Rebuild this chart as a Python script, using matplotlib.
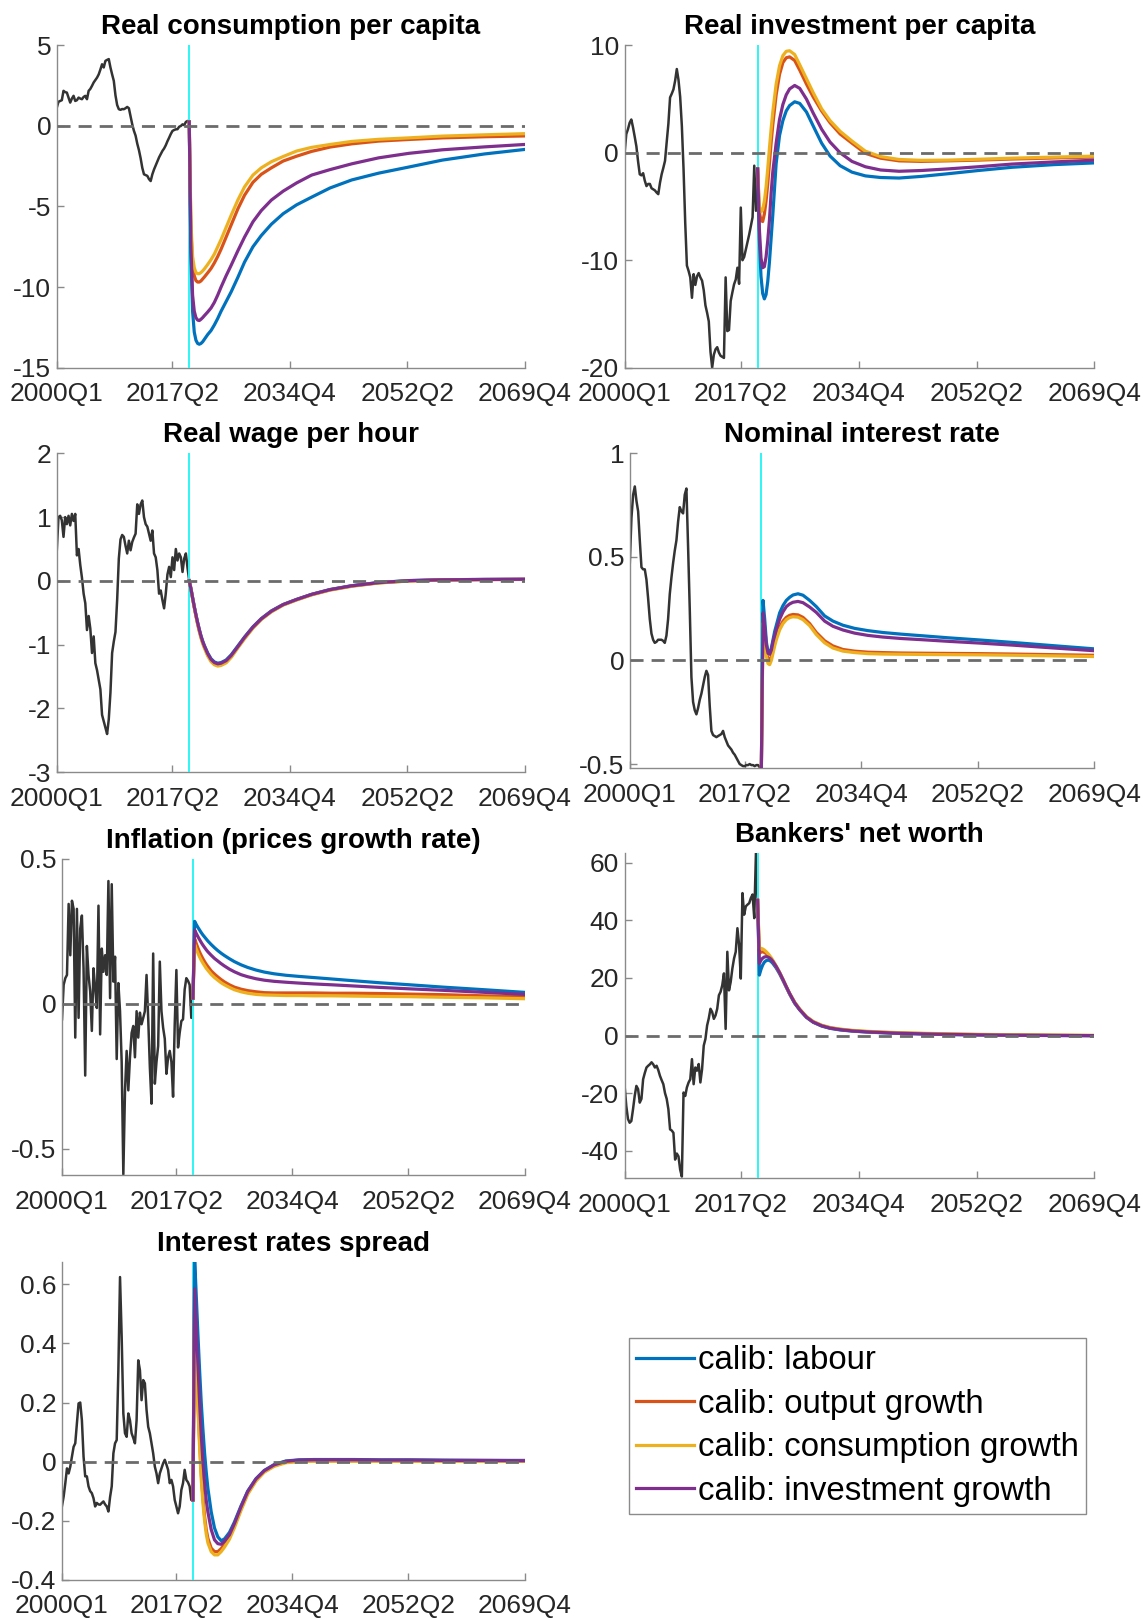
import matplotlib
matplotlib.use('Agg')
import matplotlib.pyplot as plt
from matplotlib.lines import Line2D

plt.rcParams['font.family'] = ['Liberation Sans', 'DejaVu Sans']
plt.rcParams['axes.unicode_minus'] = False

W, H = 1143, 1619

# ---------------- axis / categories ----------------
TICK_POS = [0, 69, 139, 209, 279]
TICK_LABELS = ['2000Q1', '2017Q2', '2034Q4', '2052Q2', '2069Q4']
HIST_Q = list(range(80))
CUT_Q = 79
MODEL_Q = [79, 80, 81, 82, 83, 84, 85, 86, 87, 88, 90, 92, 94, 96, 98, 101, 104,
           108, 112, 117, 122, 128, 135, 143, 152, 163, 176, 192, 210, 230, 255, 279]
SERIES_NAMES = ['calib: labour', 'calib: output growth',
                'calib: consumption growth', 'calib: investment growth']
TITLES = ['Real consumption per capita', 'Real investment per capita',
          'Real wage per hour', 'Nominal interest rate',
          'Inflation (prices growth rate)', "Bankers' net worth",
          'Interest rates spread']

# ---------------- Real consumption per capita ----------------
cons_hist = [1.14, 1.5, 1.55, 1.6, 2.18, 2.1, 2.07, 1.76, 1.45, 1.7,
             1.87, 1.55, 1.6, 1.76, 1.7, 1.66, 1.8, 1.87, 1.66, 2.18,
             2.3, 2.49, 2.7, 2.85, 3.0, 3.2, 3.5, 3.83, 3.63, 4.04,
             4.1, 4.15, 3.63, 3.2, 2.8, 1.9, 1.3, 1.04, 1.0, 1.05,
             1.04, 1.1, 1.18, 1.1, 0.6, 0.1, -0.3, -0.6, -1.1, -1.5,
             -2.0, -2.6, -3.0, -3.05, -3.1, -3.3, -3.42, -3.0, -2.7, -2.45,
             -2.2, -1.95, -1.75, -1.55, -1.4, -1.2, -0.95, -0.73, -0.5, -0.31,
             -0.25, -0.21, -0.2, -0.05, 0.0, 0.1, 0.05, 0.25, 0.31, 0.25]
cons_labour = [0.25, -8.0, -11.5, -12.8, -13.3, -13.5, -13.55, -13.5, -13.4, -13.25,
               -12.95, -12.7, -12.35, -11.95, -11.5, -10.9, -10.3, -9.4, -8.45, -7.5,
               -6.8, -6.1, -5.45, -4.9, -4.42, -3.85, -3.35, -2.93, -2.55, -2.12, -1.74, -1.46]
cons_output = [0.25, -6.5, -8.6, -9.3, -9.6, -9.69, -9.69, -9.62, -9.5, -9.38,
               -9.12, -8.85, -8.5, -8.1, -7.65, -6.9, -6.15, -5.15, -4.3, -3.5,
               -3.0, -2.6, -2.18, -1.88, -1.58, -1.31, -1.11, -0.94, -0.84, -0.74, -0.67, -0.62]
cons_cons = [0.25, -6.0, -8.1, -8.8, -9.1, -9.17, -9.17, -9.1, -9.0, -8.88,
             -8.6, -8.3, -7.95, -7.5, -7.05, -6.3, -5.55, -4.6, -3.78, -3.05,
             -2.6, -2.22, -1.9, -1.56, -1.33, -1.15, -0.96, -0.83, -0.74, -0.63, -0.55, -0.48]
cons_invest = [0.25, -7.5, -10.5, -11.5, -11.9, -12.05, -12.08, -12.0, -11.9, -11.78,
               -11.55, -11.3, -10.95, -10.5, -10.0, -9.3, -8.65, -7.75, -6.9, -5.95,
               -5.25, -4.6, -4.05, -3.54, -3.05, -2.71, -2.35, -1.98, -1.7, -1.48, -1.3, -1.15]

# ---------------- Real investment per capita ----------------
inv_hist = [0.0, 1.74, 2.2, 2.8, 3.1, 2.36, 1.5, 0.6, -0.8, -2.0,
            -2.1, -1.9, -2.6, -3.1, -2.9, -2.9, -3.3, -3.4, -3.5, -3.7,
            -3.85, -2.8, -2.0, -1.4, -0.75, 1.0, 2.7, 5.15, 5.5, 5.9,
            6.7, 7.8, 6.8, 5.2, 2.5, -1.5, -6.5, -10.5, -11.0, -11.6,
            -13.5, -11.3, -12.3, -11.5, -11.2, -11.6, -11.9, -12.8, -14.2, -14.9,
            -15.7, -18.5, -20.0, -18.8, -18.3, -18.1, -18.6, -18.9, -19.0, -19.1,
            -11.6, -16.6, -16.5, -13.8, -13.0, -12.25, -11.8, -10.7, -12.2, -5.1,
            -10.0, -9.7, -9.0, -8.3, -7.6, -6.8, -6.0, -1.2, -5.4, -1.5]
inv_labour = [-1.5, -8.0, -11.5, -13.1, -13.6, -13.2, -12.0, -10.2, -8.0, -5.8,
              -1.0, 1.6, 3.0, 3.9, 4.4, 4.75, 4.6, 3.8, 2.5, 0.9,
              -0.3, -1.2, -1.8, -2.15, -2.3, -2.35, -2.2, -1.95, -1.65, -1.35, -1.1, -0.94]
inv_output = [-1.5, -5.5, -6.3, -6.4, -5.7, -4.5, -2.9, -1.0, 0.9, 2.6,
              5.4, 7.3, 8.4, 8.85, 8.93, 8.6, 7.7, 6.4, 5.2, 3.9,
              2.8, 1.75, 0.9, -0.05, -0.5, -0.75, -0.8, -0.75, -0.68, -0.58, -0.48, -0.4]
inv_cons = [-1.5, -5.0, -5.5, -5.3, -4.5, -3.2, -1.5, 0.4, 2.2, 3.8,
            6.4, 8.1, 9.05, 9.45, 9.5, 9.15, 8.2, 6.9, 5.6, 4.1,
            3.0, 2.0, 1.1, 0.15, -0.35, -0.62, -0.7, -0.68, -0.6, -0.5, -0.4, -0.31]
inv_invest = [-1.5, -7.0, -9.8, -10.7, -10.6, -9.7, -8.2, -6.3, -3.8, -1.8,
              0.9, 3.1, 4.5, 5.4, 5.95, 6.27, 6.0, 5.0, 3.7, 2.2,
              1.0, 0.0, -0.8, -1.3, -1.6, -1.72, -1.65, -1.5, -1.3, -1.05, -0.85, -0.69]

# ---------------- Real wage per hour ----------------
wage_hist = [0.48, 1.0, 1.02, 0.95, 0.69, 1.0, 0.89, 1.02, 0.87, 1.05,
             0.94, 1.05, 0.4, 0.5, 0.25, 0.05, -0.2, -0.35, -0.77, -0.55,
             -0.75, -1.13, -0.87, -1.29, -1.4, -1.55, -1.7, -2.1, -2.2, -2.3,
             -2.4, -2.17, -1.75, -1.13, -0.95, -0.8, -0.3, 0.35, 0.65, 0.72,
             0.69, 0.55, 0.43, 0.63, 0.48, 0.61, 0.68, 0.74, 1.2, 1.05,
             1.2, 1.26, 1.0, 0.89, 0.85, 0.74, 0.63, 0.79, 0.43, 0.37,
             0.17, -0.2, -0.15, -0.3, -0.43, -0.2, 0.1, 0.22, 0.06, 0.37,
             0.17, 0.5, 0.32, 0.43, 0.37, 0.14, 0.35, 0.43, 0.2, 0.0]
wage_labour = [0.0, -0.12, -0.26, -0.4, -0.53, -0.65, -0.76, -0.86, -0.94, -1.01,
               -1.13, -1.22, -1.27, -1.29, -1.28, -1.24, -1.16, -1.02, -0.88, -0.72,
               -0.59, -0.47, -0.37, -0.29, -0.21, -0.135, -0.075, -0.025, 0.005, 0.018, 0.023, 0.025]
wage_output = [0.0, -0.12, -0.27, -0.41, -0.545, -0.67, -0.78, -0.88, -0.965, -1.035,
               -1.16, -1.25, -1.30, -1.32, -1.31, -1.27, -1.19, -1.04, -0.9, -0.735,
               -0.6, -0.48, -0.375, -0.295, -0.215, -0.14, -0.08, -0.03, 0.0, 0.015, 0.021, 0.024]
wage_cons = [0.0, -0.13, -0.28, -0.42, -0.555, -0.68, -0.795, -0.895, -0.98, -1.05,
             -1.175, -1.265, -1.315, -1.335, -1.325, -1.285, -1.2, -1.05, -0.905, -0.74,
             -0.605, -0.485, -0.38, -0.3, -0.22, -0.145, -0.085, -0.033, -0.002, 0.013, 0.02, 0.023]
wage_invest = [0.0, -0.12, -0.265, -0.405, -0.535, -0.655, -0.765, -0.865, -0.95, -1.02,
               -1.14, -1.23, -1.28, -1.30, -1.29, -1.25, -1.17, -1.03, -0.885, -0.725,
               -0.595, -0.475, -0.372, -0.292, -0.212, -0.137, -0.077, -0.027, 0.004, 0.017, 0.023, 0.026]

# ---------------- Nominal interest rate ----------------
nom_hist = [0.47, 0.69, 0.8, 0.84, 0.77, 0.72, 0.58, 0.45, 0.44, 0.44,
            0.39, 0.3, 0.2, 0.13, 0.1, 0.085, 0.09, 0.1, 0.1, 0.1,
            0.095, 0.085, 0.12, 0.2, 0.32, 0.4, 0.47, 0.53, 0.58, 0.67,
            0.74, 0.72, 0.71, 0.8, 0.83, 0.55, 0.25, -0.08, -0.2, -0.24,
            -0.26, -0.23, -0.19, -0.16, -0.12, -0.08, -0.05, -0.07, -0.22, -0.34,
            -0.36, -0.365, -0.37, -0.365, -0.36, -0.355, -0.34, -0.37, -0.39, -0.41,
            -0.42, -0.43, -0.445, -0.455, -0.47, -0.485, -0.5, -0.505, -0.51, -0.51,
            -0.505, -0.505, -0.5, -0.505, -0.505, -0.51, -0.505, -0.505, -0.515, -0.52]
nom_labour = [-0.52, 0.29, 0.2, 0.09, 0.04, 0.035, 0.06, 0.1, 0.14, 0.17,
              0.23, 0.265, 0.29, 0.305, 0.316, 0.322, 0.315, 0.29, 0.26, 0.215,
              0.19, 0.17, 0.155, 0.144, 0.135, 0.127, 0.119, 0.109, 0.099, 0.087, 0.071, 0.056]
nom_output = [-0.52, 0.19, 0.12, 0.04, 0.005, 0.0, 0.02, 0.05, 0.085, 0.115,
              0.16, 0.19, 0.208, 0.218, 0.222, 0.22, 0.208, 0.178, 0.135, 0.095,
              0.07, 0.053, 0.045, 0.04, 0.038, 0.036, 0.035, 0.034, 0.033, 0.031, 0.028, 0.025]
nom_cons = [-0.52, 0.18, 0.1, 0.02, -0.015, -0.02, 0.0, 0.035, 0.07, 0.1,
            0.148, 0.178, 0.197, 0.207, 0.211, 0.209, 0.197, 0.168, 0.125, 0.085,
            0.06, 0.045, 0.038, 0.033, 0.031, 0.03, 0.029, 0.028, 0.027, 0.025, 0.022, 0.019]
nom_invest = [-0.52, 0.23, 0.16, 0.075, 0.035, 0.03, 0.05, 0.09, 0.12, 0.15,
              0.2, 0.235, 0.26, 0.273, 0.281, 0.285, 0.279, 0.258, 0.232, 0.19,
              0.165, 0.147, 0.132, 0.121, 0.113, 0.106, 0.1, 0.092, 0.084, 0.074, 0.06, 0.047]

# ---------------- Inflation ----------------
infl_hist = [-0.053, 0.066, 0.089, 0.1, 0.345, 0.168, 0.356, 0.328, -0.116, 0.328,
             -0.048, 0.26, 0.305, 0.123, -0.247, 0.2, 0.1, 0.043, -0.093, 0.123,
             0.055, -0.014, 0.339, -0.105, 0.191, 0.111, 0.168, 0.1, 0.424, 0.02,
             0.413, 0.077, 0.163, -0.19, 0.072, -0.025, -0.2, -0.588, -0.3, -0.162,
             -0.298, -0.184, -0.1, -0.076, -0.184, -0.025, -0.116, -0.03, -0.07, -0.048,
             -0.025, 0.1, -0.05, -0.218, -0.344, 0.174, -0.275, -0.2, -0.145, 0.146,
             -0.025, -0.082, -0.12, -0.241, -0.184, -0.162, -0.2, -0.32, -0.07, 0.117,
             -0.15, -0.099, -0.059, -0.053, 0.05, 0.089, 0.08, 0.066, -0.048, 0.02]
infl_labour = [0.02, 0.285, 0.274, 0.264, 0.255, 0.246, 0.238, 0.231, 0.224, 0.217,
               0.205, 0.194, 0.184, 0.175, 0.167, 0.156, 0.146, 0.135, 0.126, 0.117,
               0.11, 0.104, 0.099, 0.095, 0.091, 0.086, 0.08, 0.073, 0.066, 0.058, 0.049, 0.04]
infl_output = [0.02, 0.225, 0.208, 0.193, 0.179, 0.167, 0.156, 0.146, 0.137, 0.129,
               0.114, 0.103, 0.093, 0.084, 0.076, 0.066, 0.058, 0.051, 0.046, 0.042,
               0.039, 0.038, 0.038, 0.038, 0.038, 0.037, 0.037, 0.036, 0.034, 0.032, 0.028, 0.025]
infl_cons = [0.02, 0.205, 0.189, 0.175, 0.162, 0.151, 0.141, 0.132, 0.123, 0.116,
             0.102, 0.091, 0.082, 0.073, 0.066, 0.057, 0.049, 0.042, 0.037, 0.033,
             0.031, 0.03, 0.029, 0.029, 0.028, 0.028, 0.027, 0.026, 0.025, 0.023, 0.021, 0.018]
infl_invest = [0.02, 0.255, 0.243, 0.232, 0.222, 0.212, 0.203, 0.195, 0.187, 0.18,
               0.168, 0.157, 0.148, 0.139, 0.131, 0.12, 0.111, 0.101, 0.094, 0.087,
               0.082, 0.078, 0.075, 0.072, 0.069, 0.066, 0.062, 0.057, 0.052, 0.047, 0.04, 0.033]

# ---------------- Bankers' net worth ----------------
nw_hist = [-17.5, -24.5, -29.0, -30.3, -29.7, -25.6, -21.0, -17.5, -18.6, -23.3,
           -22.0, -15.2, -13.0, -11.1, -10.5, -10.0, -9.3, -10.0, -11.1, -10.5,
           -12.0, -14.0, -15.5, -16.9, -20.0, -22.0, -25.6, -32.6, -33.0, -33.8,
           -43.1, -41.0, -42.0, -46.6, -49.0, -19.8, -21.0, -18.0, -16.3, -15.2,
           -8.2, -16.9, -11.1, -12.2, -9.9, -16.3, -11.7, -3.5, -1.2, 3.5,
           6.0, 9.3, 8.2, 5.8, 7.0, 9.3, 14.0, 15.2, 17.5, 21.6,
           2.3, 29.1, 15.7, 18.6, 23.3, 26.8, 29.1, 37.3, 31.5, 19.8,
           49.5, 42.0, 44.9, 45.5, 46.0, 47.8, 49.0, 40.8, 63.5, 47.0]
nw_labour = [47, 21, 23, 24.5, 25.5, 26.0, 26.2, 26.1, 25.7, 25.1,
             23.5, 21.5, 19.2, 16.8, 14.4, 11.2, 8.9, 6.3, 4.6, 3.3,
             2.5, 1.95, 1.55, 1.25, 1.0, 0.75, 0.55, 0.35, 0.2, 0.08, 0.0, -0.05]
nw_output = [47, 28.5, 29.0, 29.1, 28.9, 28.5, 28.0, 27.4, 26.7, 25.9,
             24.0, 21.9, 19.5, 17.0, 14.6, 11.5, 9.1, 6.5, 4.8, 3.5,
             2.7, 2.15, 1.72, 1.4, 1.15, 0.9, 0.7, 0.5, 0.33, 0.2, 0.08, 0.0]
nw_cons = [47, 30.3, 30.3, 30.1, 29.7, 29.2, 28.6, 27.9, 27.1, 26.2,
           24.2, 22.0, 19.6, 17.1, 14.7, 11.6, 9.2, 6.6, 4.9, 3.6,
           2.8, 2.25, 1.82, 1.5, 1.25, 1.0, 0.8, 0.6, 0.42, 0.28, 0.14, 0.05]
nw_invest = [47, 25, 26.2, 26.9, 27.3, 27.4, 27.3, 27.0, 26.5, 25.8,
             24.0, 21.9, 19.5, 17.0, 14.6, 11.4, 9.0, 6.4, 4.7, 3.4,
             2.6, 2.05, 1.62, 1.3, 1.05, 0.8, 0.6, 0.4, 0.25, 0.12, 0.03, -0.03]

# ---------------- Interest rates spread ----------------
spr_hist = [-0.15, -0.118, -0.073, -0.023, -0.04, -0.017, 0.017, 0.05, 0.062, 0.13,
            0.197, 0.2, 0.14, 0.017, -0.05, -0.05, -0.084, -0.1, -0.107, -0.124,
            -0.152, -0.14, -0.145, -0.146, -0.14, -0.135, -0.145, -0.152, -0.169, -0.12,
            -0.084, 0.028, 0.062, 0.073, 0.31, 0.625, 0.422, 0.163, 0.096, 0.084,
            0.163, 0.14, 0.096, 0.08, 0.062, 0.14, 0.343, 0.31, 0.208, 0.276,
            0.265, 0.175, 0.118, 0.096, 0.062, 0.028, -0.017, -0.04, -0.073, -0.04,
            -0.023, -0.006, 0.006, -0.01, -0.028, -0.073, -0.062, -0.084, -0.13, -0.152,
            -0.175, -0.152, -0.096, -0.073, -0.028, -0.062, -0.07, -0.084, -0.13, -0.13]
spr_labour = [-0.13, 0.69, 0.56, 0.43, 0.31, 0.2, 0.11, 0.03, -0.035, -0.09,
              -0.17, -0.225, -0.255, -0.268, -0.262, -0.24, -0.205, -0.15, -0.1, -0.058,
              -0.03, -0.01, 0.002, 0.006, 0.007, 0.007, 0.007, 0.006, 0.006, 0.005, 0.004, 0.004]
spr_output = [-0.13, 0.52, 0.35, 0.2, 0.07, -0.04, -0.12, -0.185, -0.23, -0.26,
              -0.293, -0.305, -0.305, -0.295, -0.28, -0.255, -0.218, -0.16, -0.107, -0.063,
              -0.034, -0.014, -0.002, 0.002, 0.003, 0.003, 0.003, 0.003, 0.002, 0.002, 0.002, 0.002]
spr_cons = [-0.13, 0.5, 0.33, 0.18, 0.05, -0.06, -0.14, -0.2, -0.245, -0.275,
            -0.305, -0.316, -0.316, -0.305, -0.29, -0.263, -0.224, -0.165, -0.111, -0.066,
            -0.036, -0.016, -0.004, 0.0, 0.001, 0.001, 0.001, 0.001, 0.001, 0.001, 0.001, 0.001]
spr_invest = [-0.13, 0.585, 0.46, 0.33, 0.2, 0.09, 0.0, -0.07, -0.13, -0.17,
              -0.23, -0.265, -0.278, -0.28, -0.27, -0.248, -0.21, -0.153, -0.102, -0.059,
              -0.031, -0.011, 0.001, 0.005, 0.006, 0.006, 0.006, 0.005, 0.005, 0.004, 0.004, 0.003]

# ---------------- assemble ----------------
HISTS = [cons_hist, inv_hist, wage_hist, nom_hist, infl_hist, nw_hist, spr_hist]
MODELS = [[cons_labour, cons_output, cons_cons, cons_invest],
          [inv_labour, inv_output, inv_cons, inv_invest],
          [wage_labour, wage_output, wage_cons, wage_invest],
          [nom_labour, nom_output, nom_cons, nom_invest],
          [infl_labour, infl_output, infl_cons, infl_invest],
          [nw_labour, nw_output, nw_cons, nw_invest],
          [spr_labour, spr_output, spr_cons, spr_invest]]
YLIMS = [(-15, 5), (-20, 10), (-3, 2), (-0.52, 1), (-0.59, 0.5), (-49.5, 63.5), (-0.4, 0.677)]
YTICKS = [[-15, -10, -5, 0, 5], [-20, -10, 0, 10], [-3, -2, -1, 0, 1, 2],
          [-0.5, 0, 0.5, 1], [-0.5, 0, 0.5], [-40, -20, 0, 20, 40, 60],
          [-0.4, -0.2, 0, 0.2, 0.4, 0.6]]

for h in HISTS:
    assert len(h) == len(HIST_Q), len(h)
for grp in MODELS:
    for s in grp:
        assert len(s) == len(MODEL_Q), len(s)

# layout (pixels: left, top, right, bottom)
BOXES = [(56.8, 45.4, 524.5, 367.6), (624.6, 45.4, 1094.4, 367.6),
         (56.8, 453.3, 524.5, 772.3), (629.8, 453.3, 1094.4, 768.2),
         (62.0, 859.0, 524.5, 1175.0), (624.6, 852.8, 1094.4, 1178.0),
         (62.0, 1261.7, 524.5, 1579.7)]
COLORS = ['#0072BD', '#D95319', '#EDB120', '#7E2F8E']
HIST_COLOR = '#333333'
AXIS_COLOR = '#8a8a8a'

fig = plt.figure(figsize=(W / 100, H / 100), dpi=100)

for i in range(7):
    l, t, r, b = BOXES[i]
    ax = fig.add_axes([l / W, 1 - b / H, (r - l) / W, (b - t) / H])
    ax.plot(HIST_Q, HISTS[i], color=HIST_COLOR, lw=1.8, zorder=2)
    ax.axvline(CUT_Q, color='#2EF5F5', lw=1.4, zorder=3)
    for s, c in zip(MODELS[i], COLORS):
        ax.plot(MODEL_Q, s, color=c, lw=2.3, zorder=4)
    ax.axhline(0, color='#6b6b6b', lw=2.0, ls=(0, (4.7, 2.9)), zorder=5)
    ax.set_xlim(0, 279)
    ax.set_ylim(*YLIMS[i])
    ax.set_xticks(TICK_POS)
    ax.set_xticklabels(TICK_LABELS)
    ax.set_yticks(YTICKS[i])
    ax.set_yticklabels([f'{v:g}' for v in YTICKS[i]])
    for side in ('top', 'right'):
        ax.spines[side].set_visible(False)
    for side in ('left', 'bottom'):
        ax.spines[side].set_color(AXIS_COLOR)
        ax.spines[side].set_linewidth(1.0)
    ax.tick_params(direction='in', length=5, width=1, color=AXIS_COLOR,
                   labelsize=19, labelcolor='#262626')
    ax.tick_params(axis='x', pad=10.5)
    ax.tick_params(axis='y', pad=4)
    ax.set_title(TITLES[i], fontsize=20, fontweight='bold', pad=8)

handles = [Line2D([], [], color=c, lw=2.3) for c in COLORS]
leg = fig.legend(handles, SERIES_NAMES, loc='upper left',
                 bbox_to_anchor=(628.8 / W, 1 - 1338 / H), borderaxespad=0,
                 fontsize=23.8, frameon=True, fancybox=False,
                 edgecolor='#6e6e6e', handlelength=1.75, handletextpad=0.12,
                 borderpad=0.22, labelspacing=0.38)
leg.get_frame().set_linewidth(1.0)

fig.savefig('out.png', dpi=100)
